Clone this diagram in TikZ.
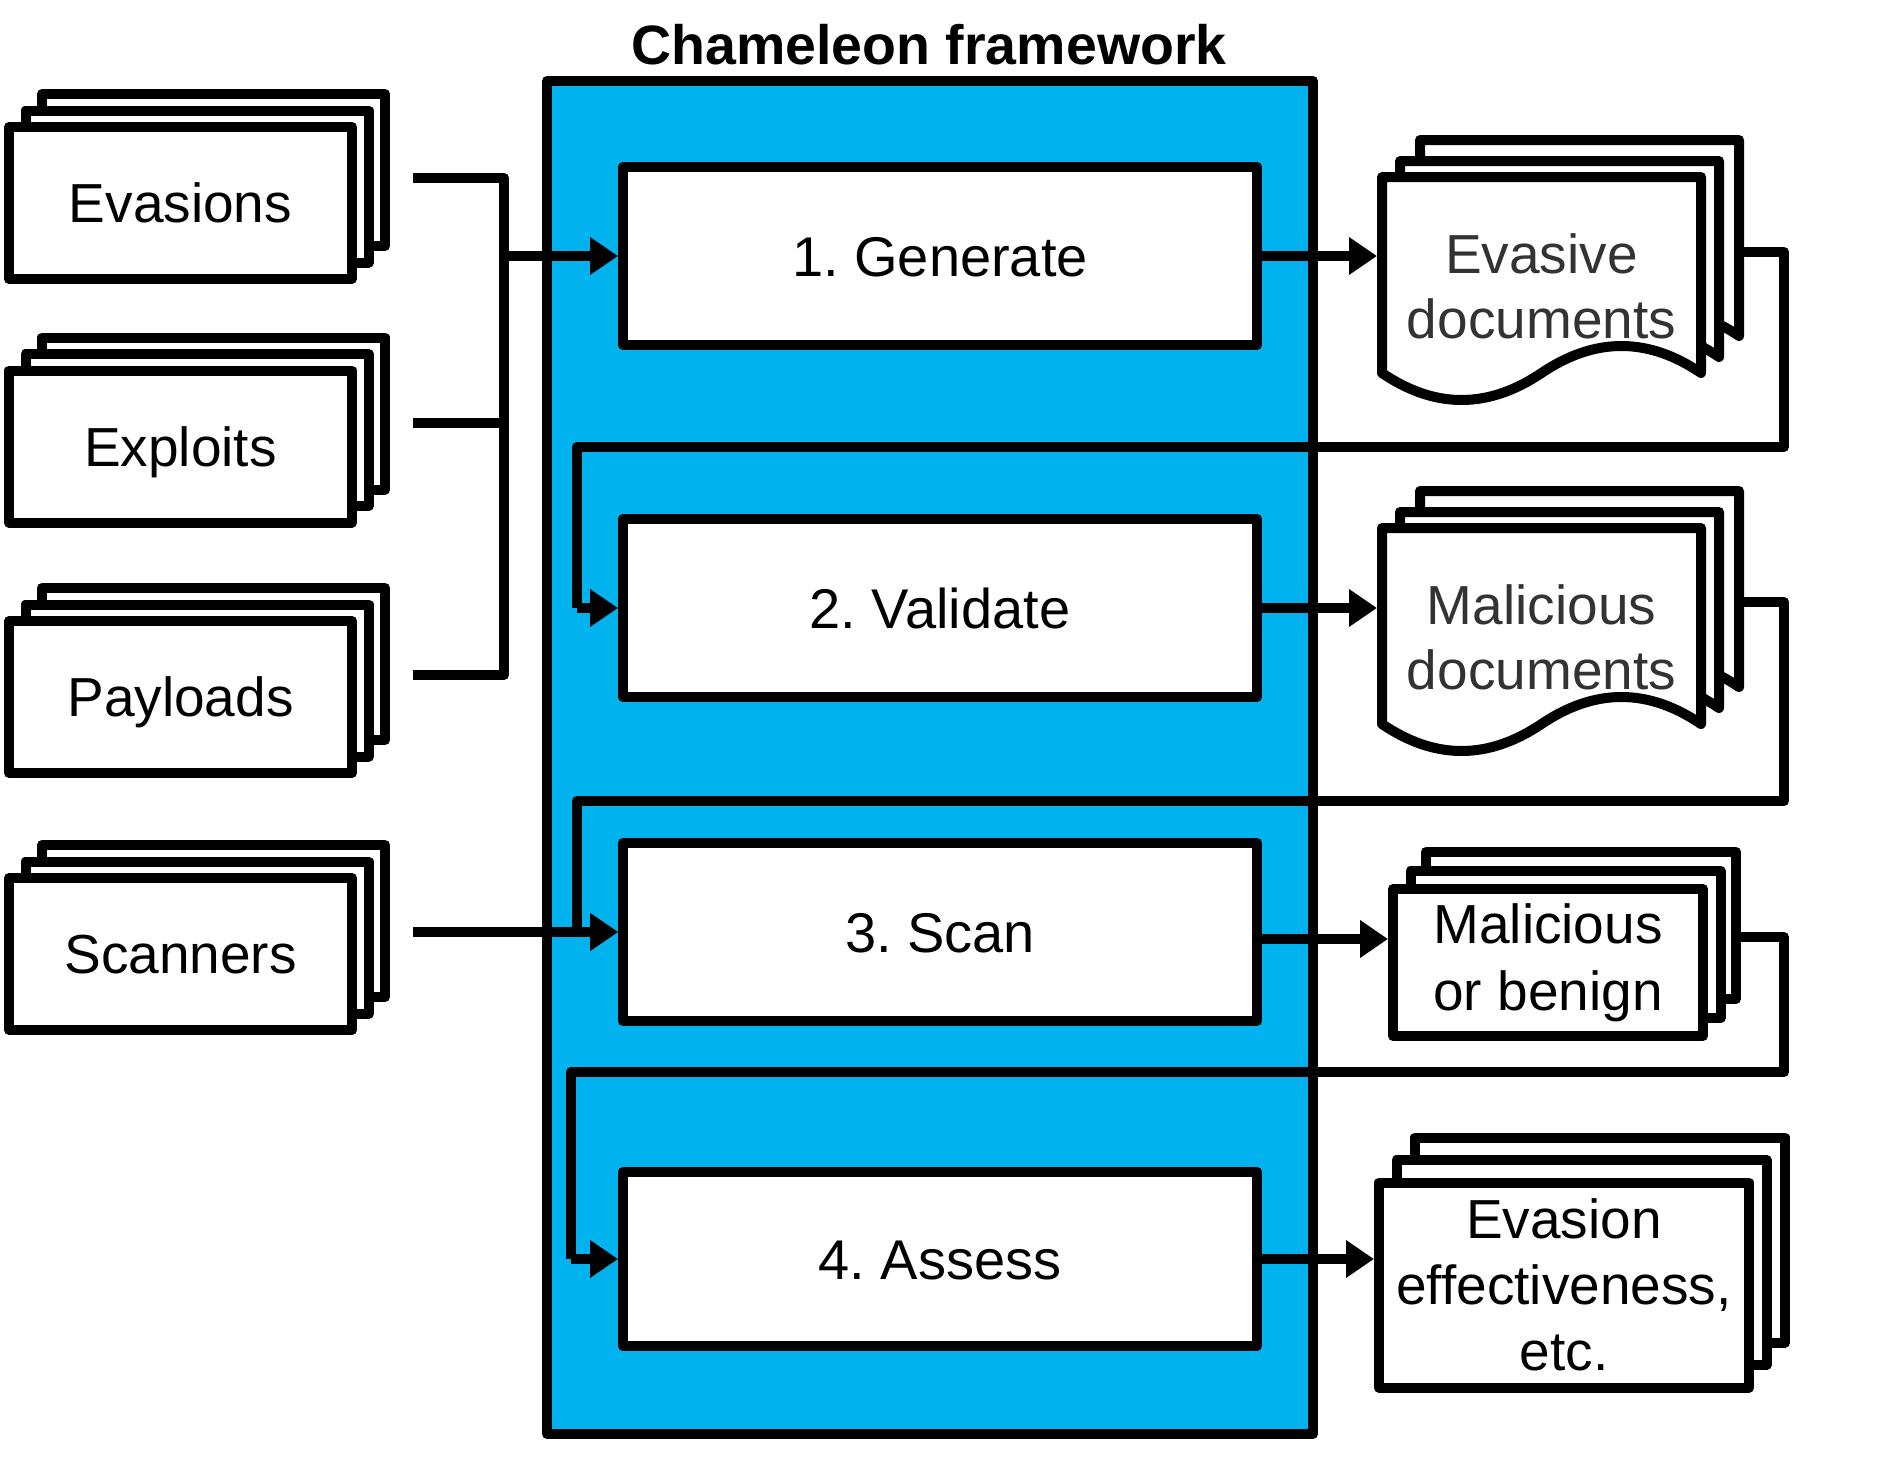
\documentclass[tikz,border=0pt]{standalone}
\usepackage{fontspec}
\setmainfont{Liberation Sans}
\frenchspacing
\usetikzlibrary{arrows.meta,shadows}
\definecolor{frameblue}{RGB}{0,178,238}
\definecolor{docgray}{RGB}{51,51,51}
\begin{document}
\begin{tikzpicture}[x=1pt,y=-1pt,line width=10pt,line join=round,
  lbl/.style={font=\fontsize{55}{65}\selectfont},
  onelbl/.style={lbl,text height=39pt,text depth=0pt},
  stepbox/.style={draw,fill=white,minimum width=634pt,minimum height=178pt,
    font=\fontsize{56}{66}\selectfont,text height=40pt,text depth=0pt},
  stack/.style n args={4}{draw,fill=white,
    copy shadow={shadow xshift=#3pt,shadow yshift=#4pt},
    copy shadow={shadow xshift=#1pt,shadow yshift=#2pt}},
  inbox/.style={stack={16.5}{16.5}{33}{33},minimum width=343pt,minimum height=152pt,onelbl},
  arr/.style={-{Triangle[length=28pt,width=36pt]}},
  doclbl/.style={lbl,text=docgray,align=center,minimum width=319pt,inner sep=0pt},
  docpage/.pic={\draw[fill=white] (0,0) -- (319,0) -- (319,196)
     .. controls (266,160) and (213,160) .. (159.5,196)
     .. controls (106,232) and (53,232) .. (0,196) -- cycle;}
]
\useasboundingbox (0,0) rectangle (1888,1472);

% title and frame
\node[font=\fontsize{55.5}{66}\selectfont\bfseries,anchor=base] (title) at (929,65) {Chameleon framework};
\node[draw,fill=frameblue,minimum width=766pt,minimum height=1353pt] (frame) at (930,757.5) {};

% feedback loops
\coordinate (evback) at (1740,252);
\coordinate (malback) at (1740,602);
\coordinate (mobback) at (1736,937);
\draw (evback) -- (1784,252) -- (1784,447) -- (577,447) -- (577,608) coordinate (loopA);
\draw (malback) -- (1784,602) -- (1784,801) -- (577,801) -- (577,932) coordinate (loopB);
\draw (mobback) -- (1784,937) -- (1784,1072) -- (571,1072) -- (571,1259) coordinate (loopC);

% step boxes
\node[stepbox] (gen) at (940,256) {1. Generate};
\node[stepbox] (val) at (940,608) {2. Validate};
\node[stepbox] (scan) at (940,932) {3. Scan};
\node[stepbox,minimum height=174pt] (assess) at (940,1259) {4. Assess};

% input stacks
\node[inbox] (evasions) at (180.5,203) {Evasions};
\node[inbox] (exploits) at (180.5,446.5) {Exploits};
\node[inbox] (payloads) at (180.5,697) {Payloads};
\node[inbox] (scanners) at (180.5,954) {Scanners};

% input connectors
\coordinate (evo) at (413,178);
\coordinate (exo) at (413,423);
\coordinate (pao) at (413,675);
\coordinate (sco) at (413,932);
\coordinate (busg) at (504,256);
\draw (evo) -- (504,178) -- (504,675) -- (pao);
\draw (exo) -- (504,423);
\draw[arr] (busg) -- (gen.west);
\draw[arr] (sco) -- (scan.west);
\draw[arr] (loopA) -- (val.west);
\draw[arr] (loopB) -- (scan.west);
\draw[arr] (loopC) -- (assess.west);

% document stacks
\pic at (1420,140) {docpage};
\pic at (1400,161) {docpage};
\pic at (1382,177) {docpage};
\node[doclbl] (evdoc) at (1541.5,286) {Evasive\\documents};
\pic at (1420,491) {docpage};
\pic at (1400,512) {docpage};
\pic at (1382,528) {docpage};
\node[doclbl] (maldoc) at (1541.5,637) {Malicious\\documents};

% result stacks
\node[stack={17.5}{18}{33}{37},minimum width=310pt,minimum height=147pt,lbl,align=center,
  font=\fontsize{55}{67}\selectfont] (mob) at (1548,962.5) {Malicious\\or benign};
\node[stack={17.5}{22.5}{36}{45},minimum width=370pt,minimum height=205pt,lbl,align=center,
  font=\fontsize{55}{66}\selectfont] (eff) at (1564,1285) {Evasion\\effectiveness,\\etc.};

% output arrows
\draw[arr] (gen.east) -- (gen.east -| evdoc.west);
\draw[arr] (val.east) -- (val.east -| maldoc.west);
\draw[arr] ([yshift=-7pt]scan.east) -- ([yshift=-7pt]scan.east -| mob.west);
\draw[arr] (assess.east) -- (assess.east -| eff.west);
\end{tikzpicture}
\end{document}
